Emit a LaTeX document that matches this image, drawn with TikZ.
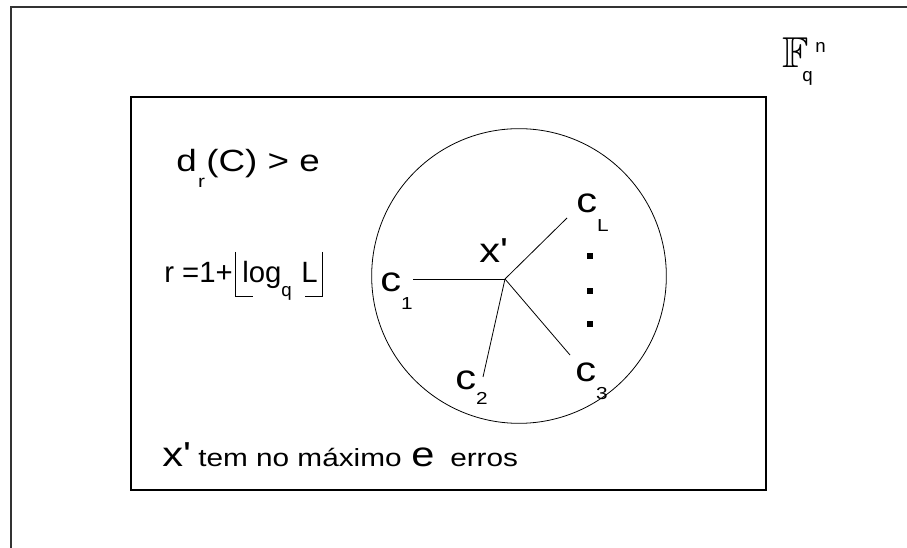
\documentclass[tikz,border=0pt]{standalone}
\usepackage{fontspec}
\usepackage{amssymb}
\setmainfont{Liberation Sans}
\newfontfamily\widefont[FakeStretch=1.2]{Liberation Sans}
\usetikzlibrary{positioning}
% low-set index, as the figure sets it
\newcommand{\lowsub}[2][13pt]{\raisebox{-#1}{\fontsize{13}{15}\selectfont #2}}

\begin{document}
\begin{tikzpicture}[
    x=0.75pt, y=-0.75pt,
    % ---- styles -------------------------------------------------
    frame/.style={draw=black, line width=0.8pt},
    edge/.style={draw=black, line width=0.6pt},
    txt/.style={inner sep=0pt, anchor=base west},
    bigtxt/.style={txt, font=\widefont\fontsize{23}{27}\selectfont},
    ctxt/.style={txt, font=\widefont\fontsize{26}{30}\selectfont},
    midtxt/.style={txt, font=\fontsize{22}{26}\selectfont},
    smalltxt/.style={txt, font=\widefont\fontsize{18.6}{23}\selectfont},
    idx/.style={txt, font=\fontsize{14}{16}\selectfont},
    dotbox/.style={fill=black, minimum size=4.5pt, inner sep=0pt},
]
\useasboundingbox (0,0) rectangle (907,548);

% =================== space F_q^n =============================
\draw[frame, draw=black!80] (11,548) -- (11,7) -- (907,7);
\node[txt] (field) at (782,68) {\scalebox{1.35}{\fontsize{24}{28}\selectfont$\mathbb{F}$}};
\node[idx] (fn) at (815,53) {n};
\node[idx] (fq) at (802,82) {q};

% =================== code box ================================
\draw[frame] (131,97) rectangle (766,490);

\node[bigtxt] (dist) at (176,172) {d\kern1pt\lowsub[12pt]{r}\kern1pt(C) > e};

\node[midtxt] (rdef) at (164,283) {r =1+};
\node[midtxt] (logq) at (242,283) {log};
\node[idx]    (qsub) at (281,297) {q};
\node[midtxt] (bigl) at (301,283) {L};
\draw[edge] (235,252) |- (253,296);
\draw[edge] (322,252) |- (305,296);

% =================== ball round x' ===========================
\node[draw, circle, edge, minimum size=221pt] (ball) at (519,276) {};
\coordinate (xp) at (505,279);
\node[ctxt] (xlab) at (479,263) {x\textquotesingle};

\coordinate (e1) at (413,279);
\coordinate (e2) at (483,377);
\coordinate (e3) at (570,355);
\coordinate (eL) at (567,218);
\foreach \e in {e1,e2,e3,eL}
    \draw[edge] (xp) -- (\e);

\node[ctxt] (c1) at (380,292) {c\lowsub[13.5pt]{1}};
\node[ctxt] (c2) at (455,390) {c\lowsub[11pt]{2}};
\node[ctxt] (c3) at (575,382) {c\lowsub[13.5pt]{3}};
\node[ctxt] (cL) at (576,213) {c\lowsub[14pt]{L}};

\foreach \y [count=\i] in {256,291,324}
    \node[dotbox] (dot\i) at (590,\y) {};

% =================== bottom line =============================
\node[txt, font=\widefont\fontsize{26}{30}\selectfont] (xerr) at (162,467) {x\textquotesingle};
\node[smalltxt] (temno) at (198,467) {tem no máximo};
\node[txt, font=\widefont\fontsize{26}{30}\selectfont] (ebig) at (411,467) {e};
\node[smalltxt] (erros) at (450,467) {erros};

\end{tikzpicture}
\end{document}
